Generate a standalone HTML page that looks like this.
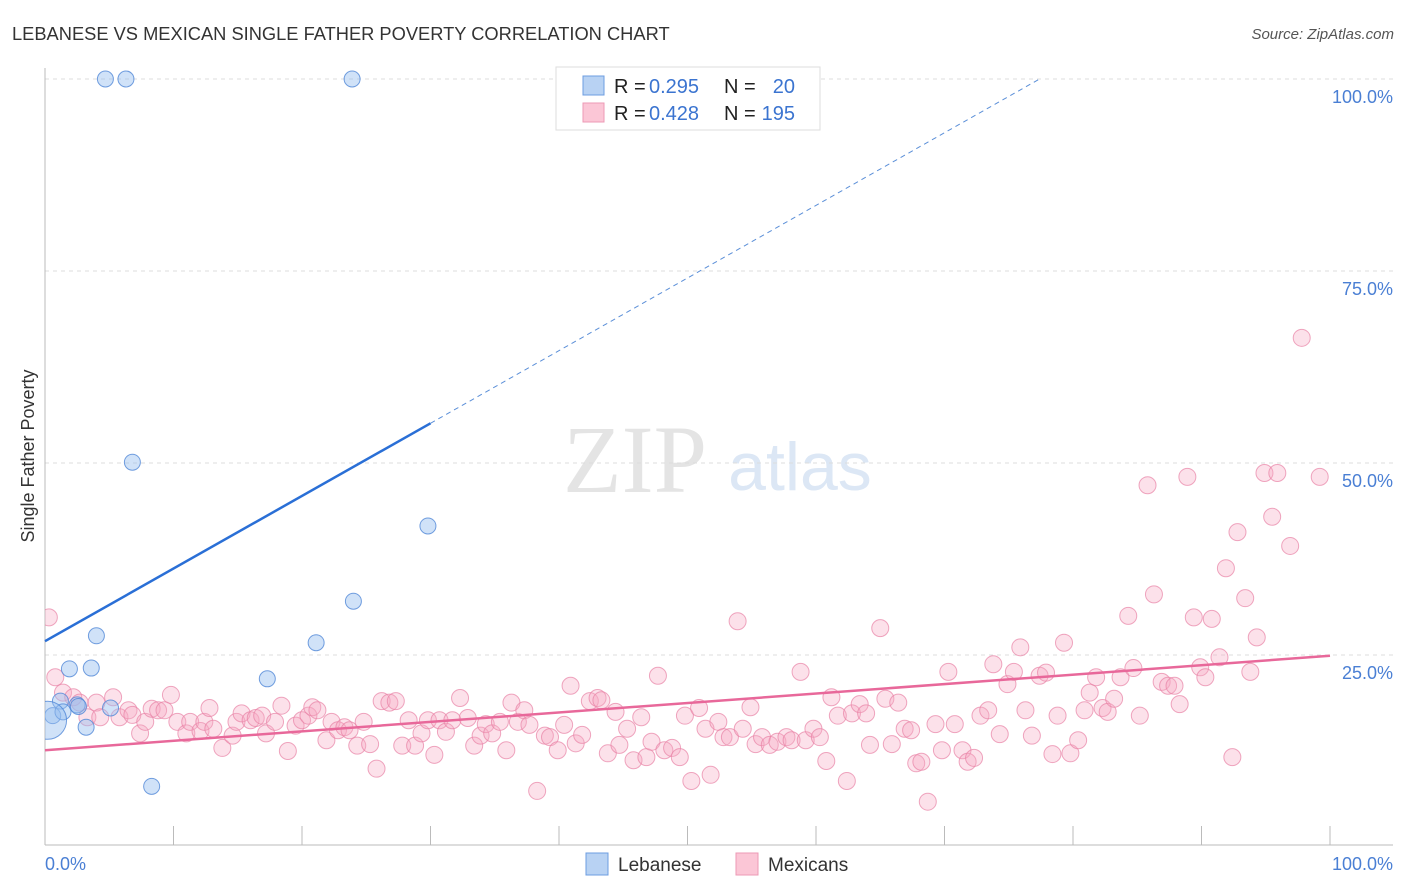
<!DOCTYPE html>
<html><head><meta charset="utf-8"><style>
body{margin:0;background:#fff;font-family:"Liberation Sans",sans-serif;}
svg{display:block}
</style></head><body>
<svg id="chart" width="1406" height="892">
<defs><clipPath id="plotclip"><rect x="45" y="60" width="1360" height="785"/></clipPath></defs>
<text x="12" y="40" font-size="18.3" fill="#333">LEBANESE VS MEXICAN SINGLE FATHER POVERTY CORRELATION CHART</text>
<text x="1394" y="39" font-size="15" font-style="italic" fill="#555" text-anchor="end">Source: ZipAtlas.com</text>
<text x="635" y="492" font-size="96" font-family="Liberation Serif,serif" fill="#e4e4e4" text-anchor="middle">ZIP</text>
<text x="800" y="490" font-size="68" fill="#dce7f5" text-anchor="middle">atlas</text>
<g id="grid"></g>
<line x1="45" y1="68" x2="45" y2="845" stroke="#bbb"/>
<line x1="45" y1="845" x2="1393" y2="845" stroke="#bbb"/>
<text transform="translate(34,456) rotate(-90)" font-size="18" fill="#333" text-anchor="middle">Single Father Poverty</text>
<text x="45" y="870" font-size="18" fill="#4a7fd4">0.0%</text>
<text x="1393" y="870" font-size="18" fill="#4a7fd4" text-anchor="end">100.0%</text>
<g id="pts" clip-path="url(#plotclip)"></g>
<g id="lines"></g>
<g>
<rect x="556" y="67" width="264" height="63" fill="#fff" stroke="#ddd"/>
<rect x="583" y="76" width="21" height="19" fill="#b8d2f3" stroke="#6d9de0"/>
<rect x="583" y="103" width="21" height="19" fill="#fbc6d6" stroke="#ec9ab5"/>
<text x="614" y="93" font-size="20" fill="#222">R =</text>
<text x="649" y="93" font-size="20" fill="#3b74d0">0.295</text>
<text x="724" y="93" font-size="20" fill="#222">N =</text>
<text x="795" y="93" font-size="20" fill="#3b74d0" text-anchor="end">20</text>
<text x="614" y="120" font-size="20" fill="#222">R =</text>
<text x="649" y="120" font-size="20" fill="#3b74d0">0.428</text>
<text x="724" y="120" font-size="20" fill="#222">N =</text>
<text x="795" y="120" font-size="20" fill="#3b74d0" text-anchor="end">195</text>
</g>
<g>
<rect x="586" y="853" width="22" height="22" fill="#b8d2f3" stroke="#6d9de0"/>
<text x="618" y="871" font-size="19" fill="#333">Lebanese</text>
<rect x="736" y="853" width="22" height="22" fill="#fbc6d6" stroke="#ec9ab5"/>
<text x="768" y="871" font-size="19" fill="#333">Mexicans</text>
</g>
</svg>
<script>
const yTicks=[25,50,75,100];
const yTickLabels=["25.0%","50.0%","75.0%","100.0%"];
const xTicks=[10,20,30,40,50,60,70,80,90,100];
const blueX=[4.7,6.3,23.9,6.8,29.8,24.0,4.0,21.1,1.9,3.6,17.3,1.2,2.5,5.1,3.2,0.6,8.3,1.4,2.6,0.2];
const blueY=[100,100,100,50.1,41.8,32.0,27.5,26.6,23.2,23.3,21.9,19.0,18.5,18.1,15.6,17.1,7.9,17.6,18.3,16.5];
const pinkX=[0.3,0.8,1.4,2.2,2.7,3.3,4.0,4.3,5.3,5.8,6.5,6.8,7.4,7.8,8.3,8.8,9.3,9.8,10.3,11.0,11.3,12.1,12.4,12.8,13.1,13.8,14.6,14.9,15.3,16.0,16.4,16.9,17.2,17.9,18.4,18.9,19.5,20.0,20.5,20.8,21.2,21.9,22.3,22.8,23.3,23.7,24.3,24.8,25.3,25.8,26.2,26.8,27.3,27.8,28.3,28.8,29.3,29.8,30.3,30.7,31.2,31.7,32.3,32.9,33.4,33.9,34.3,34.8,35.4,35.9,36.3,36.8,37.3,37.7,38.3,38.9,39.3,39.9,40.4,40.9,41.3,41.8,42.4,43.0,43.3,43.8,44.4,44.7,45.3,45.8,46.4,46.8,47.2,47.7,48.2,48.8,49.4,49.8,50.3,50.9,51.4,51.8,52.4,52.8,53.3,53.9,54.3,54.9,55.3,55.8,56.4,57.0,57.7,58.1,58.8,59.2,59.8,60.3,60.8,61.2,61.7,62.4,62.8,63.4,63.9,64.2,65.0,65.4,65.9,66.4,66.9,67.4,67.8,68.2,68.7,69.3,69.8,70.3,70.8,71.4,71.8,72.3,72.8,73.4,73.8,74.3,74.9,75.4,75.9,76.3,76.8,77.4,77.9,78.4,78.8,79.3,79.8,80.4,80.9,81.3,81.8,82.3,82.7,83.2,83.7,84.3,84.7,85.2,85.8,86.3,86.9,87.4,87.9,88.3,88.9,89.4,89.9,90.3,90.8,91.4,91.9,92.4,92.8,93.4,93.8,94.3,94.9,95.5,95.9,96.9,97.8,99.2];
const pinkY=[29.9,22.1,20.1,19.5,18.8,16.9,18.8,16.9,19.5,16.9,17.8,17.2,14.8,16.3,18.0,17.8,17.8,19.8,16.3,14.8,16.3,15.1,16.3,18.1,15.4,12.9,14.5,16.3,17.4,16.5,16.8,17.1,14.8,16.3,18.4,12.5,15.8,16.5,17.1,18.2,17.8,13.9,16.3,15.2,15.6,15.2,13.2,16.3,13.4,10.2,19.0,18.8,19.0,13.2,16.5,13.2,14.8,16.5,12.0,16.5,15.0,16.5,19.4,16.8,13.2,14.5,16.0,14.8,16.3,12.6,18.8,16.3,17.8,15.9,7.3,14.5,14.3,12.6,15.9,21.0,13.5,14.6,19.0,19.4,19.1,12.2,17.6,13.3,15.4,11.3,16.9,11.7,13.7,22.3,12.6,12.9,11.7,17.1,8.6,18.1,15.4,9.4,16.3,14.3,14.3,29.4,15.4,18.2,13.4,14.3,13.3,13.7,14.3,13.9,22.8,13.9,15.4,14.3,11.2,19.5,17.1,8.6,17.4,18.6,17.4,13.3,28.5,19.3,13.4,18.8,15.4,15.2,10.9,11.1,5.9,16.0,12.6,22.8,16.0,12.6,11.1,11.6,17.1,17.8,23.8,14.7,21.2,22.8,26.0,17.8,14.5,22.3,22.7,12.1,17.1,26.6,12.2,13.9,17.8,20.1,22.1,18.1,17.6,19.3,22.1,30.1,23.3,17.1,47.1,32.9,21.5,21.0,21.0,18.6,48.2,29.9,23.4,22.1,29.7,24.7,36.3,11.7,41.0,32.4,22.8,27.3,48.7,43.0,48.7,39.2,66.3,48.2];
const blueLine=[0,26.8,77.4,100];
const blueSolidEnd=30;
const pinkLine=[0,12.6,100,24.9];
const NS="http://www.w3.org/2000/svg";
const X=v=>45+v*12.85, Y=v=>847-v*7.68;
function mk(t,a,p){const e=document.createElementNS(NS,t);for(const k in a)e.setAttribute(k,a[k]);p.appendChild(e);return e;}
const grid=document.getElementById('grid');
yTicks.forEach((t,i)=>{
 const l=mk('line',{x1:45,x2:1393,y1:Y(t),y2:Y(t),stroke:'#ddd','stroke-dasharray':'4,4'},grid);
 
 
 const tx=mk('text',{x:1393,y:Y(t)+24,'font-size':18,fill:'#4a7fd4','text-anchor':'end'},grid);
 tx.textContent=yTickLabels[i];
 
 
});
xTicks.forEach(t=>{
 const l=mk('line',{x1:X(t),x2:X(t),y1:826,y2:845,stroke:'#bbb'},grid);
 
 
});
const pts=document.getElementById('pts');
pinkX.forEach((x,i)=>{
 const c=mk('circle',{cx:X(x),cy:Y(pinkY[i]),r:8.5,fill:'rgba(246,170,195,0.35)',stroke:'rgba(232,130,165,0.7)','stroke-width':1},pts);
 
 
});
blueX.forEach((x,i)=>{
 const c=mk('circle',{cx:X(x),cy:Y(blueY[i]),r:i==19?19:8,fill:'rgba(150,190,240,0.45)',stroke:'rgba(80,135,215,0.8)','stroke-width':1},pts);
 
 
});
const lines=document.getElementById('lines');
const by=x=>blueLine[1]+(blueLine[3]-blueLine[1])*(x-blueLine[0])/(blueLine[2]-blueLine[0]);
const b1=mk('line',{x1:X(0),y1:Y(by(0)),x2:X(blueSolidEnd),y2:Y(by(blueSolidEnd)),stroke:'#2a6fd6','stroke-width':2.5},lines);


const b2=mk('line',{x1:X(blueSolidEnd),y1:Y(by(blueSolidEnd)),x2:X(blueLine[2]),y2:Y(blueLine[3]),stroke:'#5b8fd8','stroke-width':1,'stroke-dasharray':'5,4'},lines);


const p1=mk('line',{x1:X(pinkLine[0]),y1:Y(pinkLine[1]),x2:X(pinkLine[2]),y2:Y(pinkLine[3]),stroke:'#e8689a','stroke-width':2.5},lines);


</script>
</body></html>
